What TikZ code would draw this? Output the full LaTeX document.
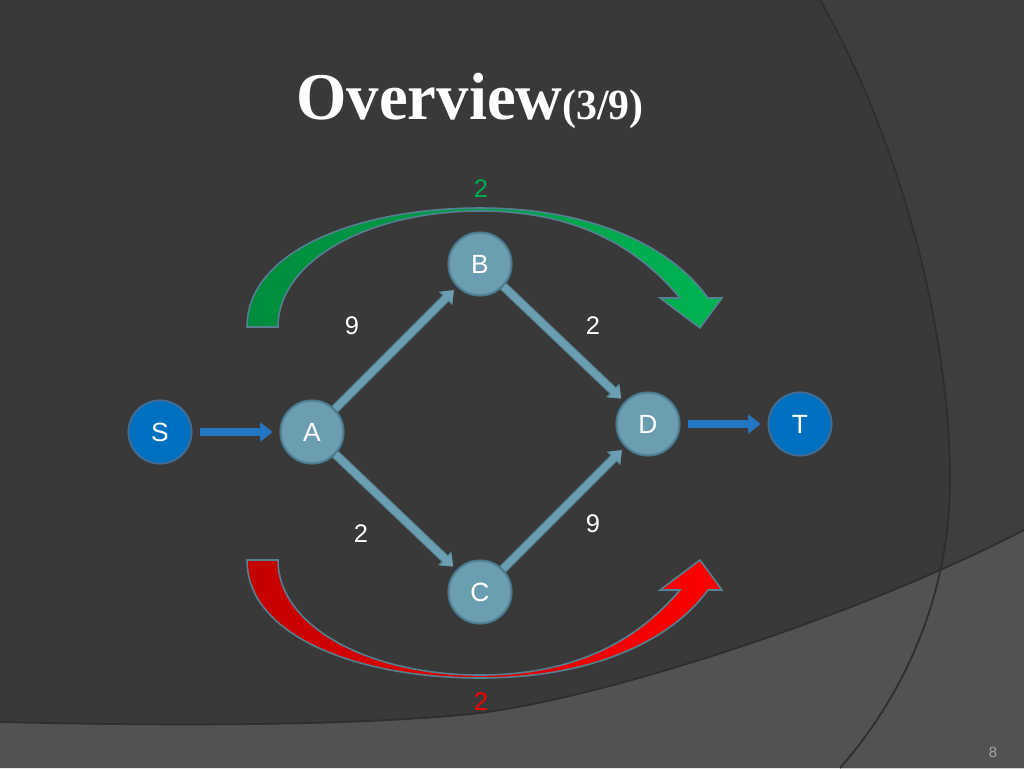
\documentclass[tikz,border=0pt]{standalone}
\usepackage{fontspec}
\setmainfont{Liberation Sans}
\newfontfamily\titlefont{Liberation Serif}
\usepackage{xcolor}
\usetikzlibrary{arrows.meta}

\definecolor{bgmain}{RGB}{57,57,57}
\definecolor{bgright}{RGB}{62,62,62}
\definecolor{bgbottom}{RGB}{82,82,82}
\definecolor{bgshadow}{RGB}{46,46,46}
\definecolor{vfill}{RGB}{108,158,178}
\definecolor{vborder}{RGB}{78,124,144}
\definecolor{tfill}{RGB}{0,112,192}
\definecolor{tborder}{RGB}{62,110,150}
\definecolor{linkc}{RGB}{108,158,178}
\definecolor{linkedge}{RGB}{84,128,146}
\definecolor{bluearr}{RGB}{34,118,196}
\definecolor{arcedge}{RGB}{84,128,146}
\definecolor{greenL}{RGB}{0,140,62}
\definecolor{greenR}{RGB}{0,180,82}
\definecolor{redL}{RGB}{196,0,0}
\definecolor{redR}{RGB}{255,0,0}
\definecolor{greentxt}{RGB}{0,176,80}
\definecolor{pagegray}{RGB}{165,165,165}

\begin{document}
\begin{tikzpicture}[
  x=0.02cm, y=-0.02cm,
  vertex/.style={circle, draw=vborder, line width=1.2pt, fill=vfill, minimum size=1.26cm, inner sep=0pt, text=white, font=\fontsize{15}{18}\selectfont},
  terminal/.style={vertex, fill=tfill, draw=tborder},
  weight/.style={text=white, inner sep=0pt, font=\fontsize{14.5}{17}\selectfont},
  link/.style={line width=4pt, draw=linkc, -{Triangle[length=6pt,width=9pt]}, shorten >=2.5pt,
    preaction={draw=linkedge, line width=5.2pt, -{Triangle[length=6.8pt,width=10.6pt]}}},
  feed/.style={line width=4pt, draw=bluearr, -{Triangle[length=6.4pt,width=9.6pt]}, shorten >=4pt, shorten <=4pt,
    preaction={draw=tborder, line width=5pt, -{Triangle[length=7pt,width=10.6pt]}}},
  sweep/.style={draw=arcedge, line width=0.9pt}
]
\useasboundingbox (0,0) rectangle (1024,768);
% background
\fill[bgmain] (0,0) rectangle (1024,768);
\fill[bgright] (820,0) .. controls (900,140) and (950,330) .. (950,480) .. controls (950,600) and (900,700) .. (840,768) -- (1024,768) -- (1024,0) -- cycle;
\fill[bgbottom] (0,722) .. controls (250,728) and (400,722) .. (480,713) .. controls (600,698) and (850,620) .. (1024,530) -- (1024,768) -- (0,768) -- cycle;
\draw[bgshadow, line width=1pt] (0,722) .. controls (250,728) and (400,722) .. (480,713) .. controls (600,698) and (850,620) .. (1024,530);
\draw[bgshadow, line width=1pt] (820,0) .. controls (900,140) and (950,330) .. (950,480) .. controls (950,600) and (900,700) .. (840,768);

% title
\node[anchor=base west, inner sep=0pt, text=white] (title) at (296,119)
  {\scalebox{0.97}[1]{\titlefont\bfseries\fontsize{38}{44}\selectfont Overview\fontsize{24.5}{29}\selectfont(3/9)}};

% curved arrows
\path[sweep, left color=greenL, right color=greenR]
  (247,327) .. controls (247,250) and (360,208) .. (480,208)
  .. controls (590,208) and (670,245) .. (708,298)
  -- (722,298) -- (700,328) -- (660,298) -- (680,298)
  .. controls (640,250) and (580,211) .. (480,211)
  .. controls (370,211) and (278,260) .. (278,327) -- cycle;
\path[sweep, left color=redL, right color=redR]
  (247,560) .. controls (247,637) and (360,678) .. (480,678)
  .. controls (590,678) and (670,642) .. (708,590)
  -- (722,590) -- (700,560) -- (660,590) -- (680,590)
  .. controls (640,637) and (580,675) .. (480,675)
  .. controls (370,675) and (278,627) .. (278,560) -- cycle;
\node[text=greentxt, font=\fontsize{14.5}{17}\selectfont] (top) at (481,189) {2};
\node[text=red, font=\fontsize{14.5}{17}\selectfont] (bottom) at (481,702) {2};

% graph
\node[terminal] (S) at (160,432) {S};
\node[vertex] (A) at (312,432) {A};
\node[vertex] (B) at (480,264) {B};
\node[vertex] (C) at (480,592) {C};
\node[vertex] (D) at (648,424) {D};
\node[terminal] (T) at (800,424) {T};

\draw[feed] (S) -- (A);
\draw[feed] (D) -- (T);
\foreach \x/\y in {A/B,B/D,A/C,C/D}
  \draw[link] (\x) -- (\y);

\node[weight] (wab) at (352,326) {9};
\node[weight] (wbd) at (593,326) {2};
\node[weight] (wac) at (361,534) {2};
\node[weight] (wcd) at (593,524) {9};

\node[text=pagegray, font=\fontsize{8.5}{10}\selectfont] (page) at (993,752) {8};
\end{tikzpicture}
\end{document}
